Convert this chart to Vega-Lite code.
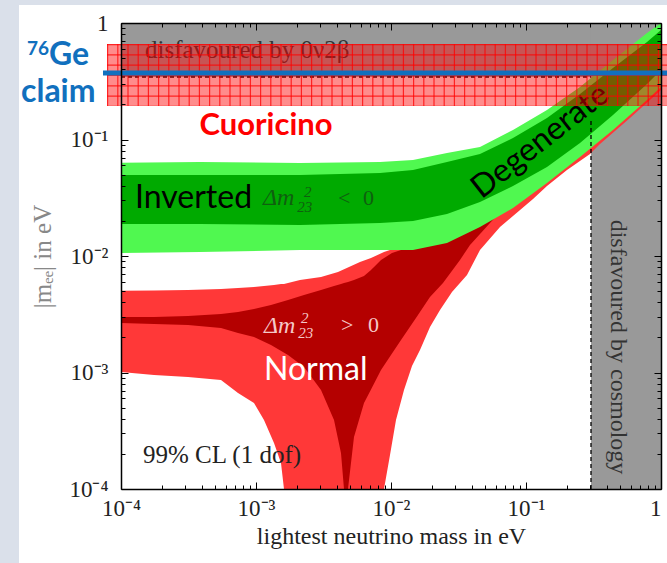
{
"$schema": "https://vega.github.io/schema/vega-lite/v6.json",
"width": 540, "height": 466,
"autosize": {"type": "none"},
"padding": {"left": 121, "top": 23, "right": 6, "bottom": 74},
"background": "#dae0ea",
"config": {"view": {"stroke": null}},
"datasets": {
"go": [{"m":0.0001,"lo":0.01061,"hi":0.06322},{"m":0.0003848,"lo":0.01082,"hi":0.06410},{"m":0.002118,"lo":0.01126,"hi":0.06284},{"m":0.008291,"lo":0.01126,"hi":0.06410},{"m":0.014555,"lo":0.01126,"hi":0.06668},{"m":0.025983,"lo":0.01293,"hi":0.07656},{"m":0.045629,"lo":0.01773,"hi":0.08622},{"m":0.080098,"lo":0.02582,"hi":0.1206},{"m":0.14305,"lo":0.04232,"hi":0.1791},{"m":0.2512,"lo":0.07076,"hi":0.2822},{"m":0.4410,"lo":0.1206,"hi":0.4814},{"m":0.7877,"lo":0.2184,"hi":0.8209},{"m":1.0,"lo":0.2822,"hi":1.0}],
"gi": [{"m":0.0001,"lo":0.01882,"hi":0.04958},{"m":0.0003848,"lo":0.01882,"hi":0.04958},{"m":0.002118,"lo":0.01845,"hi":0.04958},{"m":0.008291,"lo":0.01920,"hi":0.05157},{"m":0.014555,"lo":0.01997,"hi":0.05472},{"m":0.025983,"lo":0.02293,"hi":0.06410},{"m":0.045629,"lo":0.02908,"hi":0.07506},{"m":0.080098,"lo":0.03990,"hi":0.1030},{"m":0.14305,"lo":0.05807,"hi":0.1530},{"m":0.2512,"lo":0.09333,"hi":0.2458},{"m":0.4410,"lo":0.1623,"hi":0.4109},{"m":0.7877,"lo":0.2995,"hi":0.6871},{"m":1.0,"lo":0.3950,"hi":0.8708}],
"ro": [{"m":0.0001,"lo":0.001010,"hi":0.005037},{"m":0.00017558,"lo":0.0009517,"hi":0.005058},{"m":0.0003136,"lo":0.0009149,"hi":0.005108},{"m":0.0005505,"lo":0.0008622,"hi":0.005209},{"m":0.0007357,"lo":0.0006668,"hi":0.005313},{"m":0.0009665,"lo":0.0005472,"hi":0.005419},{"m":0.001146,"lo":0.0003911,"hi":0.005528},{"m":0.0013594,"lo":0.0002482,"hi":0.005638},{"m":0.0015317,"lo":0.0001672,"hi":0.005750},{"m":0.001612,"lo":0.0001,"hi":0.005750},{"m":0.002118,"lo":0.0001,"hi":0.006223},{"m":0.0030305,"lo":0.0001,"hi":0.006603},{"m":0.004049,"lo":0.0001,"hi":0.007291},{"m":0.0058925,"lo":0.0001,"hi":0.008882},{"m":0.0071107,"lo":0.0001,"hi":0.009612},{"m":0.0088735,"lo":0.0001,"hi":0.01082},{"m":0.009831,"lo":0.0001958,"hi":0.01126},{"m":0.010889,"lo":0.0003911,"hi":0.01195},{"m":0.012482,"lo":0.0007076,"hi":0.01293},{"m":0.014305,"lo":0.001137,"hi":0.01372},{"m":0.016397,"lo":0.001560,"hi":0.01456},{"m":0.019446,"lo":0.002458,"hi":0.01545},{"m":0.023067,"lo":0.003440,"hi":0.01639},{"m":0.028305,"lo":0.004909,"hi":0.01809},{"m":0.036559,"lo":0.006870,"hi":0.02120},{"m":0.045629,"lo":0.01126,"hi":0.02482},{"m":0.06418,"lo":0.01773,"hi":0.03147},{"m":0.080098,"lo":0.02204,"hi":0.03686},{"m":0.11269,"lo":0.03085,"hi":0.04958},{"m":0.14305,"lo":0.03990,"hi":0.06041},{"m":0.2012,"lo":0.05473,"hi":0.08127},{"m":0.2979,"lo":0.07506,"hi":0.1160},{"m":0.3533,"lo":0.09149,"hi":0.1332},{"m":0.5893,"lo":0.1530,"hi":0.2184},{"m":1.0,"lo":0.2660,"hi":0.3950}],
"ri": [{"m":0.0001,"lo":0.002660,"hi":0.002995},{"m":0.00017558,"lo":0.002608,"hi":0.002995},{"m":0.0003136,"lo":0.002557,"hi":0.003055},{"m":0.0005505,"lo":0.002410,"hi":0.003178},{"m":0.0007357,"lo":0.002184,"hi":0.003306},{"m":0.0009665,"lo":0.002017,"hi":0.003509},{"m":0.0012915,"lo":0.001722,"hi":0.003797},{"m":0.0017258,"lo":0.001413,"hi":0.004192},{"m":0.0022676,"lo":0.001115,"hi":0.004627},{"m":0.0030305,"lo":0.0007076,"hi":0.005108},{"m":0.0037832,"lo":0.0003911,"hi":0.005528},{"m":0.0042616,"lo":0.0002037,"hi":0.005750},{"m":0.0044858,"lo":0.0001,"hi":0.005864},{"m":0.0048026,"lo":0.0001,"hi":0.005981},{"m":0.0053189,"lo":0.0002795,"hi":0.006223},{"m":0.0063096,"lo":0.0005472,"hi":0.006735},{"m":0.0071107,"lo":0.0007159,"hi":0.007583},{"m":0.008434,"lo":0.001051,"hi":0.009240},{"m":0.010171,"lo":0.001456,"hi":0.01061},{"m":0.011862,"lo":0.001901,"hi":0.01126},{"m":0.015849,"lo":0.003115,"hi":0.01268},{"m":0.019446,"lo":0.004448,"hi":0.01372},{"m":0.024275,"lo":0.005864,"hi":0.01485},{"m":0.032443,"lo":0.009240,"hi":0.01672},{"m":0.038475,"lo":0.01243,"hi":0.01845},{"m":0.06418,"lo":0.02386,"hi":0.03025},{"m":0.11269,"lo":0.03686,"hi":0.04491},{"m":0.2012,"lo":0.06161,"hi":0.07362},{"m":0.3533,"lo":0.1030,"hi":0.1206},{"m":0.5893,"lo":0.1722,"hi":0.1978},{"m":1.0,"lo":0.2995,"hi":0.3578}]
},
"layer": [
{"data": {"values": [{"a":1.7558e-5,"b":1.1076,"c":2.3166e-5,"d":1.427}]},
 "mark": {"type":"rect","fill":"#ffffff","clip":false},
 "encoding": {"x":{"field":"a","type":"quantitative","axis":null},"x2":{"field":"b"},"y":{"field":"c","type":"quantitative","axis":null},"y2":{"field":"d"}}},
{"data": {"values": [{"a":0.0001,"b":1,"c":0.3439,"d":1},{"a":0.303,"b":1,"c":0.0001,"d":1}]},
 "mark": {"type":"rect","fill":"#999999"},
 "encoding": {"x":{"field":"a","type":"quantitative","axis":null},"x2":{"field":"b"},"y":{"field":"c","type":"quantitative","axis":null},"y2":{"field":"d"}}},
{"data": {"values": [{"t":"disfavoured by 0ν2β","x":0.0001506,"y":0.5008}]},
 "mark": {"type":"text","font":"Liberation Serif","fontSize":25,"color":"#333333","align":"left","baseline":"alphabetic"},
 "encoding": {"x":{"field":"x","type":"quantitative","axis":null},"y":{"field":"y","type":"quantitative","axis":null},"text":{"field":"t"}}},
{"data": {"values": [{"t":"disfavoured by cosmology","x":0.4802,"y":0.001655}]},
 "mark": {"type":"text","font":"Liberation Serif","fontSize":24,"color":"#333333","align":"center","baseline":"middle","angle":90},
 "encoding": {"x":{"field":"x","type":"quantitative","axis":null},"y":{"field":"y","type":"quantitative","axis":null},"text":{"field":"t"}}},
{"data": {"values": [{"a":0.0001,"b":0.303,"c":0.3439}]},
 "mark": {"type":"rule","color":"#000000","strokeWidth":1.3,"strokeDash":[4,3]},
 "encoding": {"x":{"field":"a","type":"quantitative","axis":null},"x2":{"field":"b"},"y":{"field":"c","type":"quantitative","axis":null}}},
{"data": {"name":"ro"},
 "mark": {"type":"area","color":"#ff3838","interpolate":"linear"},
 "encoding": {
  "x":{"field":"m","type":"quantitative","scale":{"type":"log","domain":[0.0001,1]},
   "axis":{"orient":"bottom","values":[0.0001,0.0002,0.0003,0.0004,0.0005,0.0006,0.0007,0.0008,0.0009,0.001,0.002,0.003,0.004,0.005,0.006,0.007,0.008,0.009,0.01,0.02,0.03,0.04,0.05,0.06,0.07,0.08,0.09,0.1,0.2,0.3,0.4,0.5,0.6,0.7,0.8,0.9,1],
    "labelExpr":"abs(log(datum.value)/LN10 - round(log(datum.value)/LN10)) > 0.001 ? '' : round(log(datum.value)/LN10) == 0 ? '1' : round(log(datum.value)/LN10) == -1 ? '10⁻¹' : round(log(datum.value)/LN10) == -2 ? '10⁻²' : round(log(datum.value)/LN10) == -3 ? '10⁻³' : '10⁻⁴'",
    "labelFont":"Liberation Serif","labelFontSize":23,"labelColor":"#222222","labelPadding":15,"labelBaseline":"top","labelFlush":false,"labelOverlap":false,
    "labelAlign":{"condition":{"test":"datum.value > 0.5","value":"right"},"value":"center"},
    "tickColor":"#000000","tickWidth":1,
    "tickSize":{"condition":{"test":"abs(log(datum.value)/LN10 - round(log(datum.value)/LN10)) < 0.001","value":-7},"value":-4},
    "domain":true,"domainColor":"#000000","domainWidth":1.5,"grid":false,"zindex":1,
    "title":"lightest neutrino mass in eV","titleFont":"Liberation Serif","titleFontSize":24,"titleFontWeight":"normal","titleColor":"#222222","titleX":270,"titleY":54,"titleBaseline":"alphabetic"}},
  "y":{"field":"hi","type":"quantitative","scale":{"type":"log","domain":[0.0001,1]},
   "axis":{"orient":"left","values":[0.0001,0.0002,0.0003,0.0004,0.0005,0.0006,0.0007,0.0008,0.0009,0.001,0.002,0.003,0.004,0.005,0.006,0.007,0.008,0.009,0.01,0.02,0.03,0.04,0.05,0.06,0.07,0.08,0.09,0.1,0.2,0.3,0.4,0.5,0.6,0.7,0.8,0.9,1],
    "labelExpr":"abs(log(datum.value)/LN10 - round(log(datum.value)/LN10)) > 0.001 ? '' : round(log(datum.value)/LN10) == 0 ? '1' : round(log(datum.value)/LN10) == -1 ? '10⁻¹' : round(log(datum.value)/LN10) == -2 ? '10⁻²' : round(log(datum.value)/LN10) == -3 ? '10⁻³' : '10⁻⁴'",
    "labelFont":"Liberation Serif","labelFontSize":23,"labelColor":"#222222","labelPadding":20,"labelBaseline":"middle","labelOverlap":false,"labelFlush":false,
    "tickColor":"#000000","tickWidth":1,
    "tickSize":{"condition":{"test":"abs(log(datum.value)/LN10 - round(log(datum.value)/LN10)) < 0.001","value":-7},"value":-4},
    "domain":true,"domainColor":"#000000","domainWidth":1.5,"grid":false,"zindex":1,
    "title":"|mₑₑ| in eV","titleFont":"Liberation Serif","titleFontSize":25,"titleFontWeight":"normal","titleColor":"#888888","titleX":-79,"titleY":233,"titleBaseline":"middle","titleAngle":-90}},
  "y2":{"field":"lo"}}},
{"data": {"name":"ri"},
 "mark": {"type":"area","color":"#b40000","interpolate":"linear"},
 "encoding": {"x":{"field":"m","type":"quantitative","axis":null},"y":{"field":"hi","type":"quantitative","axis":null},"y2":{"field":"lo"}}},
{"data": {"name":"go"},
 "mark": {"type":"area","color":"#50f850","interpolate":"linear"},
 "encoding": {
  "x":{"field":"m","type":"quantitative","scale":{"type":"log","domain":[0.0001,1]},
   "axis":{"orient":"top","values":[0.0001,0.0002,0.0003,0.0004,0.0005,0.0006,0.0007,0.0008,0.0009,0.001,0.002,0.003,0.004,0.005,0.006,0.007,0.008,0.009,0.01,0.02,0.03,0.04,0.05,0.06,0.07,0.08,0.09,0.1,0.2,0.3,0.4,0.5,0.6,0.7,0.8,0.9,1],
    "labels":false,"title":null,"tickColor":"#000000","tickWidth":1,
    "tickSize":{"condition":{"test":"abs(log(datum.value)/LN10 - round(log(datum.value)/LN10)) < 0.001","value":-7},"value":-4},
    "domain":true,"domainColor":"#000000","domainWidth":1.5,"grid":false,"zindex":1}},
  "y":{"field":"hi","type":"quantitative","scale":{"type":"log","domain":[0.0001,1]},
   "axis":{"orient":"right","values":[0.0001,0.0002,0.0003,0.0004,0.0005,0.0006,0.0007,0.0008,0.0009,0.001,0.002,0.003,0.004,0.005,0.006,0.007,0.008,0.009,0.01,0.02,0.03,0.04,0.05,0.06,0.07,0.08,0.09,0.1,0.2,0.3,0.4,0.5,0.6,0.7,0.8,0.9,1],
    "labels":false,"title":null,"tickColor":"#000000","tickWidth":1,
    "tickSize":{"condition":{"test":"abs(log(datum.value)/LN10 - round(log(datum.value)/LN10)) < 0.001","value":-7},"value":-4},
    "domain":true,"domainColor":"#000000","domainWidth":1.5,"grid":false,"zindex":1}},
  "y2":{"field":"lo"}}},
{"data": {"name":"gi"},
 "mark": {"type":"area","color":"#00aa00","interpolate":"linear"},
 "encoding": {"x":{"field":"m","type":"quantitative","axis":null},"y":{"field":"hi","type":"quantitative","axis":null},"y2":{"field":"lo"}}},
{"data": {"values": [{"a":0.303,"c":0.0001,"d":0.147}]},
 "mark": {"type":"rule","color":"#000000","strokeWidth":1.3,"strokeDash":[4,3]},
 "encoding": {"x":{"field":"a","type":"quantitative","axis":null},"y":{"field":"c","type":"quantitative","axis":null},"y2":{"field":"d"}}},
{"data": {"values": [{"t":"99% CL (1 dof)","x":0.00014555,"y":0.0001672}]},
 "mark": {"type":"text","font":"Liberation Serif","fontSize":25,"color":"#222222","align":"left","baseline":"alphabetic"},
 "encoding": {"x":{"field":"x","type":"quantitative","axis":null},"y":{"field":"y","type":"quantitative","axis":null},"text":{"field":"t"}}},
{"data": {"values": [{"t":"Inverted","x":0.0001270,"y":0.02582}]},
 "mark": {"type":"text","font":"Lato","fontSize":32,"color":"#000000","align":"left","baseline":"alphabetic"},
 "encoding": {"x":{"field":"x","type":"quantitative","axis":null},"y":{"field":"y","type":"quantitative","axis":null},"text":{"field":"t"}}},
{"data": {"values": [{"t":"Normal","x":0.001146,"y":0.0008622}]},
 "mark": {"type":"text","font":"Lato","fontSize":32,"color":"#ffffff","align":"left","baseline":"alphabetic"},
 "encoding": {"x":{"field":"x","type":"quantitative","axis":null},"y":{"field":"y","type":"quantitative","axis":null},"text":{"field":"t"}}},
{"data": {"values": [{"t":"Degenerate","x":0.1270,"y":0.09707}]},
 "mark": {"type":"text","font":"Lato","fontSize":32,"color":"#000000","align":"center","baseline":"middle","angle":322},
 "encoding": {"x":{"field":"x","type":"quantitative","axis":null},"y":{"field":"y","type":"quantitative","axis":null},"text":{"field":"t"}}},
{"data": {"values": [{"t":"Δm","x":0.0011269,"y":0.02740,"h":"inv"},{"t":"Δm","x":0.001146,"y":0.002184,"h":"norm"}]},
 "mark": {"type":"text","font":"Liberation Serif","fontSize":24,"fontStyle":"italic","align":"left","baseline":"alphabetic"},
 "encoding": {"x":{"field":"x","type":"quantitative","axis":null},"y":{"field":"y","type":"quantitative","axis":null},"text":{"field":"t"},
  "color":{"field":"h","type":"nominal","scale":{"domain":["inv","norm"],"range":["#0f5f0f","#f4c8c8"]},"legend":null}}},
{"data": {"values": [{"t":"<","x":0.004049,"y":0.02740,"h":"inv"},{"t":"0","x":0.006203,"y":0.02740,"h":"inv"},{"t":">","x":0.0042616,"y":0.002227,"h":"norm"},{"t":"0","x":0.006753,"y":0.002227,"h":"norm"}]},
 "mark": {"type":"text","font":"Liberation Serif","fontSize":22,"align":"left","baseline":"alphabetic"},
 "encoding": {"x":{"field":"x","type":"quantitative","axis":null},"y":{"field":"y","type":"quantitative","axis":null},"text":{"field":"t"},
  "color":{"field":"h","type":"nominal","scale":{"domain":["inv","norm"],"range":["#0f5f0f","#f4c8c8"]},"legend":null}}},
{"data": {"values": [{"t":"2","x":0.0022676,"y":0.03209,"h":"inv"},{"t":"23","x":0.002018,"y":0.02386,"h":"inv"},{"t":"2","x":0.0021544,"y":0.00266,"h":"norm"},{"t":"23","x":0.002052,"y":0.001978,"h":"norm"}]},
 "mark": {"type":"text","font":"Liberation Serif","fontSize":15,"fontStyle":"italic","align":"left","baseline":"alphabetic"},
 "encoding": {"x":{"field":"x","type":"quantitative","axis":null},"y":{"field":"y","type":"quantitative","axis":null},"text":{"field":"t"},
  "color":{"field":"h","type":"nominal","scale":{"domain":["inv","norm"],"range":["#0f5f0f","#f4c8c8"]},"legend":null}}},
{"data": {"values": [{"a":7.877e-5,"b":1.1076,"c":0.194,"d":0.6603}]},
 "mark": {"type":"rect","fill":"#ff0000","opacity":0.45,"clip":false},
 "encoding": {"x":{"field":"a","type":"quantitative","axis":null},"x2":{"field":"b"},"y":{"field":"c","type":"quantitative","axis":null},"y2":{"field":"d"}}},
{"data": {"values": [{"a":7.877e-5,"b":1.1076,"c":0.3578}]},
 "mark": {"type":"rule","color":"#ff0000","opacity":0.75,"strokeWidth":62,"strokeDash":[1.2,9.0]},
 "encoding": {"x":{"field":"a","type":"quantitative","axis":null},"x2":{"field":"b"},"y":{"field":"c","type":"quantitative","axis":null}}},
{"data": {"values": [{"a":0.009342,"c":0.6603,"d":0.194}]},
 "mark": {"type":"rule","color":"#ff0000","opacity":0.75,"strokeWidth":560,"strokeDash":[1.2,9.1]},
 "encoding": {"x":{"field":"a","type":"quantitative","axis":null},"y":{"field":"c","type":"quantitative","axis":null},"y2":{"field":"d"}}},
{"data": {"values": [{"a":7.357e-5,"b":1.1076,"c":0.3722}]},
 "mark": {"type":"rule","color":"#1170be","strokeWidth":5},
 "encoding": {"x":{"field":"a","type":"quantitative","axis":null},"x2":{"field":"b"},"y":{"field":"c","type":"quantitative","axis":null}}},
{"data": {"values": [{"t":"Ge","x":2.929e-5,"y":0.4360},{"t":"claim","x":1.8166e-5,"y":0.2098}]},
 "mark": {"type":"text","font":"Lato","fontSize":32,"fontWeight":"bold","color":"#1170be","align":"left","baseline":"alphabetic"},
 "encoding": {"x":{"field":"x","type":"quantitative","axis":null},"y":{"field":"y","type":"quantitative","axis":null},"text":{"field":"t"}}},
{"data": {"values": [{"t":"76","x":2.012e-5,"y":0.5313}]},
 "mark": {"type":"text","font":"Lato","fontSize":19,"fontWeight":"bold","color":"#1170be","align":"left","baseline":"alphabetic"},
 "encoding": {"x":{"field":"x","type":"quantitative","axis":null},"y":{"field":"y","type":"quantitative","axis":null},"text":{"field":"t"}}},
{"data": {"values": [{"t":"Cuoricino","x":0.0011862,"y":0.1093}]},
 "mark": {"type":"text","font":"Lato","fontSize":31,"fontWeight":"bold","color":"#ff0000","align":"center","baseline":"alphabetic"},
 "encoding": {"x":{"field":"x","type":"quantitative","axis":null},"y":{"field":"y","type":"quantitative","axis":null},"text":{"field":"t"}}}
]
}
